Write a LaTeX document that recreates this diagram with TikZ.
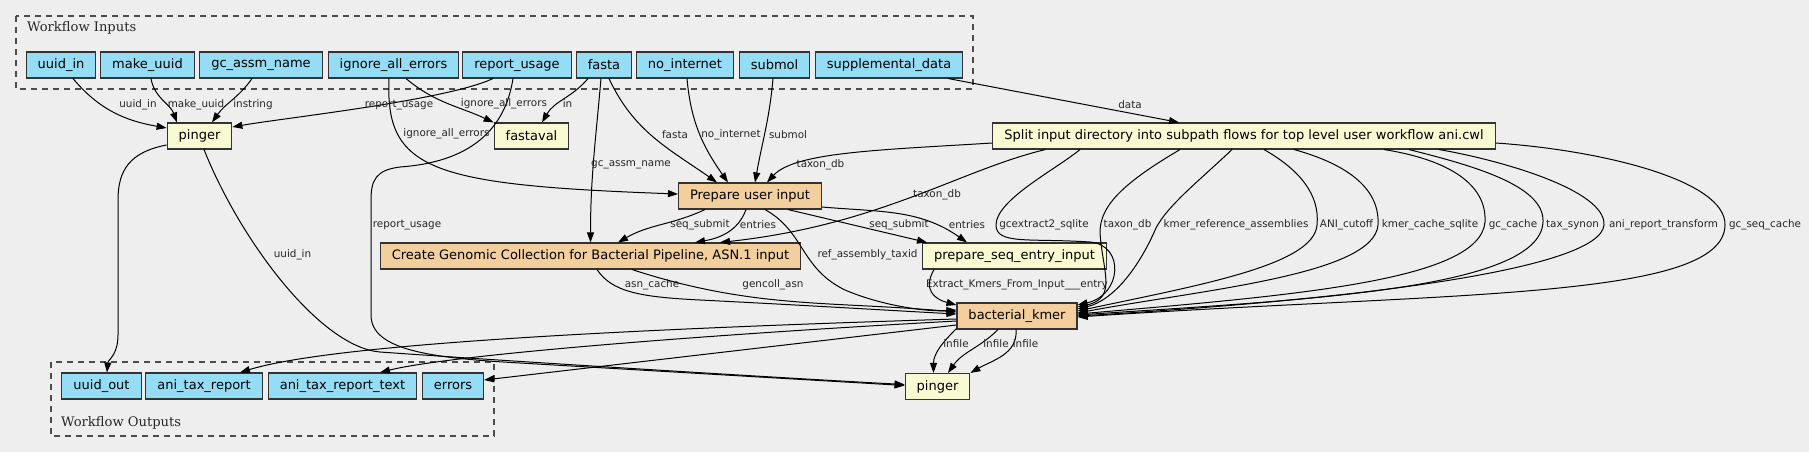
\documentclass[tikz,border=0pt]{standalone}
\usepackage{fontspec}
\setmainfont{DejaVu Sans}
\newfontfamily\clusterfont{DejaVu Serif}
\usetikzlibrary{arrows.meta}
\definecolor{bg}{HTML}{EEEEEE}
\definecolor{iofill}{HTML}{94DDF4}
\definecolor{toolfill}{HTML}{FAFAD2}
\definecolor{wffill}{HTML}{F3CF9E}
\definecolor{boxline}{HTML}{333333}

\begin{document}
\begin{tikzpicture}[x=1pt,y=-1pt,
	>={Triangle[length=10pt,width=7pt]},
	box/.style={draw=boxline,line width=1.1pt,minimum height=26pt,inner xsep=11.5pt,inner ysep=0pt,font=\fontsize{13}{15}\selectfont},
	iobox/.style={box,fill=iofill},
	toolbox/.style={box,fill=toolfill},
	wfbox/.style={box,fill=wffill},
	flow/.style={->,line width=1pt},
	elabel/.style={inner sep=0pt,text=black!85,font=\fontsize{10.4}{12}\selectfont},
	cluster/.style={draw=black!70,line width=1.2pt,dash pattern=on 6pt off 5pt},
	clabel/.style={anchor=base west,inner sep=0pt,text=black!85,font=\clusterfont\fontsize{13.1}{15}\selectfont}]
\useasboundingbox (0,0) rectangle (1809,452);
\begin{scope}
	\fill[bg] (0,0) rectangle (1809,452);
	\draw[cluster] (16,16) rectangle (973,89);
	\node[clabel] (inlabel) at (27,32) {Workflow Inputs};
	\draw[cluster] (51,362) rectangle (494,436);
	\node[clabel] (outlabel) at (61,426.5) {Workflow Outputs};

	\node[iobox] (uuidin) at (61,65) {uuid\_in};
	\node[iobox] (makeuuid) at (147.5,65) {make\_uuid};
	\node[iobox] (gcassm) at (261,65) {gc\_assm\_name};
	\node[iobox] (ignoreerr) at (393.5,65) {ignore\_all\_errors};
	\node[iobox] (reportuse) at (517,65) {report\_usage};
	\node[iobox] (fasta) at (604,65) {fasta};
	\node[iobox] (nointernet) at (685,65) {no\_internet};
	\node[iobox] (submol) at (774.5,65) {submol};
	\node[iobox] (suppdata) at (889,65) {supplemental\_data};

	\node[toolbox] (pinger) at (199.5,136) {pinger};
	\node[toolbox] (fastaval) at (531.5,136) {fastaval};
	\node[toolbox] (split) at (1244,136) {Split input directory into subpath flows for top level user workflow ani.cwl};
	\node[wfbox] (prep) at (750,196) {Prepare user input};
	\node[wfbox] (gencoll) at (590.5,256) {Create Genomic Collection for Bacterial Pipeline, ASN.1 input};
	\node[toolbox] (prepseq) at (1014.5,256) {prepare\_seq\_entry\_input};
	\node[wfbox] (kmer) at (1017,316) {bacterial\_kmer};
	\node[toolbox] (pingerb) at (937.5,386.5) {pinger};

	\node[iobox] (uuidout) at (101.5,386) {uuid\_out};
	\node[iobox] (anireport) at (204,386) {ani\_tax\_report};
	\node[iobox] (anireporttext) at (342.5,386) {ani\_tax\_report\_text};
	\node[iobox] (errors) at (453,386) {errors};

	\draw[flow] ([xshift=12pt]uuidin.south) to[out=-50,in=170] ([yshift=8pt]pinger.west);
	\draw[flow] ([xshift=3.5pt]makeuuid.south) to[out=-80,in=110] ([xshift=-22.5pt]pinger.north);
	\draw[flow] ([xshift=-9pt]gcassm.south) to[out=-125,in=55] ([xshift=12.5pt]pinger.north);
	\draw[flow] ([xshift=-24pt]reportuse.south) to[out=-155,in=10,looseness=0.5] ([yshift=9pt]pinger.east);
	\draw[flow] ([xshift=12.5pt]ignoreerr.south) to[out=-40,in=155] (fastaval.north west);
	\draw[flow] ([xshift=-16pt]fasta.south) to[out=-130,in=60] ([xshift=10.5pt]fastaval.north);
	\draw[flow] ([xshift=-4.5pt]ignoreerr.south) .. controls (385,170) and (430,185) .. ([yshift=2pt]prep.west);
	\draw[flow] ([xshift=-4pt]reportuse.south) .. controls (505,130) and (470,162) .. (400,167) .. controls (376,170) and (371,180) .. (371,200) -- (371,315) .. controls (371,350) and (430,358) .. (520,363) -- ([yshift=1pt]pingerb.west);
	\draw[flow] ([yshift=-9pt]pinger.west) .. controls (130,152) and (118,170) .. (118,200) -- (118,335) .. controls (118,355) and (108,360) .. ([xshift=5.5pt]uuidout.north);
	\draw[flow] ([xshift=4.5pt]pinger.south) .. controls (240,240) and (320,347) .. (380,352) .. controls (520,362) and (800,379) .. ([yshift=2pt]pingerb.west);
	\draw[flow] ([xshift=-3pt]fasta.south) to[out=-95,in=90] (gencoll.north);
	\draw[flow] ([xshift=5pt]fasta.south) to[out=-65,in=145] ([xshift=-33pt]prep.north);
	\draw[flow] ([xshift=2pt]nointernet.south) to[out=-85,in=125] ([xshift=-22pt]prep.north);
	\draw[flow] ([xshift=-1.5pt]submol.south) to[out=-95,in=80] ([xshift=5pt]prep.north);
	\draw[flow] ([xshift=-15pt]suppdata.south east) -- ([xshift=-65pt]split.north);
	\draw[flow] ([yshift=-7pt]split.west) .. controls (880,150) and (795,152) .. ([xshift=17pt]prep.north);
	\draw[flow] ([xshift=53pt]split.south west) .. controls (960,170) and (880,225) .. ([xshift=129.5pt]gencoll.north);
	\draw[flow] ([xshift=-45pt]prep.south) to[out=-155,in=30] ([xshift=27.5pt]gencoll.north);
	\draw[flow] ([xshift=-4pt]prep.south) to[out=-110,in=10] ([xshift=104.5pt]gencoll.north);
	\draw[flow] ([xshift=38pt]prep.south) -- ([xshift=5pt]prepseq.north west);
	\draw[flow] ([yshift=-11pt]prep.east) to[out=-5,in=145] ([xshift=-47.5pt]prepseq.north);
	\draw[flow] ([xshift=15pt]prep.south) .. controls (805,232) and (800,268) .. (845,290) .. controls (880,305) and (925,312) .. ([yshift=6pt]kmer.west);
	\draw[flow] ([xshift=6.5pt]gencoll.south) .. controls (612,292) and (640,297) .. (700,300) .. controls (800,305) and (900,311) .. ([yshift=2pt]kmer.west);
	\draw[flow] ([xshift=41.5pt]gencoll.south) to[out=-18,in=175] ([yshift=4pt]kmer.west);
	\draw[flow] ([xshift=12pt]prepseq.south west) to[out=-120,in=165,looseness=1.4] ([yshift=11pt]kmer.west);

	\draw[flow] ([xshift=-164pt]split.south) .. controls (1055,170) and (996,200) .. (996,225) .. controls (996,245) and (1030,238) .. (1090,242) .. controls (1125,245) and (1122,295) .. ([yshift=11pt]kmer.east);
	\draw[flow] ([xshift=-64pt]split.south) .. controls (1125,182) and (1100,205) .. (1100,232) .. controls (1102,270) and (1118,298) .. ([yshift=9pt]kmer.east);
	\draw[flow] ([xshift=-12pt]split.south) .. controls (1200,180) and (1168,205) .. (1156,228) .. controls (1140,265) and (1115,300) .. ([yshift=7pt]kmer.east);
	\draw[flow] ([xshift=20pt]split.south) .. controls (1300,170) and (1320,195) .. (1317,225) .. controls (1314,265) and (1200,285) .. ([yshift=5pt]kmer.east);
	\draw[flow] ([xshift=50pt]split.south) .. controls (1350,165) and (1380,190) .. (1378,225) .. controls (1374,275) and (1200,290) .. ([yshift=3pt]kmer.east);
	\draw[flow] ([xshift=140pt]split.south) .. controls (1450,160) and (1487,185) .. (1485,222) .. controls (1480,280) and (1300,295) .. ([yshift=2pt]kmer.east);
	\draw[flow] ([xshift=165pt]split.south) .. controls (1470,165) and (1545,185) .. (1543,222) .. controls (1540,290) and (1300,300) .. ([yshift=1pt]kmer.east);
	\draw[flow] ([xshift=195pt]split.south) .. controls (1500,160) and (1606,190) .. (1604,225) .. controls (1600,270) and (1350,300) .. (kmer.east);
	\draw[flow] ([yshift=-7pt]split.east) .. controls (1600,150) and (1726,180) .. (1725,225) .. controls (1724,300) and (1450,292) .. ([yshift=-1pt]kmer.east);

	\draw[flow] ([yshift=-3pt]kmer.west) .. controls (600,330) and (330,345) .. ([xshift=36pt]anireport.north);
	\draw[flow] ([yshift=-5pt]kmer.west) .. controls (700,335) and (450,355) .. ([xshift=37.5pt]anireporttext.north);
	\draw[flow] ([yshift=-9pt]kmer.west) -- ([yshift=6pt]errors.east);
	\draw[flow] ([yshift=1pt]kmer.south west) to[out=-135,in=90] ([xshift=-4pt]pingerb.north);
	\draw[flow] ([xshift=-19pt]kmer.south) to[out=-135,in=55] ([xshift=10.5pt]pingerb.north);
	\draw[flow] ([xshift=-1pt]kmer.south) to[out=-85,in=30] (pingerb.north east);

	\node[elabel] (l-uuidin) at (138,105) {uuid\_in};
	\node[elabel] (l-makeuuid) at (196,105) {make\_uuid};
	\node[elabel] (l-instring) at (253,105) {instring};
	\node[elabel] (l-report) at (399,105) {report\_usage};
	\node[elabel] (l-ignore) at (504,104) {ignore\_all\_errors};
	\node[elabel] (l-in) at (567.5,104) {in};
	\node[elabel] (l-ignoreb) at (446.5,134) {ignore\_all\_errors};
	\node[elabel] (l-fasta) at (675,135) {fasta};
	\node[elabel] (l-nointernet) at (731,135) {no\_internet};
	\node[elabel] (l-submol) at (788,135) {submol};
	\node[elabel] (l-data) at (1130,105) {data};
	\node[elabel] (l-gcassm) at (631,165) {gc\_assm\_name};
	\node[elabel] (l-taxona) at (820.5,165) {taxon\_db};
	\node[elabel] (l-taxonb) at (937,195) {taxon\_db};
	\node[elabel] (l-reportb) at (407,225) {report\_usage};
	\node[elabel] (l-uuidinb) at (292.5,255) {uuid\_in};
	\node[elabel] (l-seqa) at (700,225) {seq\_submit};
	\node[elabel] (l-entriesa) at (758,225) {entries};
	\node[elabel] (l-seqb) at (899,225) {seq\_submit};
	\node[elabel] (l-entriesb) at (967,225) {entries};
	\node[elabel] (l-taxid) at (867.5,255) {ref\_assembly\_taxid};
	\node[elabel] (l-asn) at (652,285) {asn\_cache};
	\node[elabel] (l-gencoll) at (773,285) {gencoll\_asn};
	\node[elabel] (l-extract) at (1017,285) {Extract\_Kmers\_From\_Input\_\_\_entry};
	\node[elabel] (l-gcextract) at (1044,225) {gcextract2\_sqlite};
	\node[elabel] (l-taxonc) at (1127.5,225) {taxon\_db};
	\node[elabel] (l-kmerref) at (1236,225) {kmer\_reference\_assemblies};
	\node[elabel] (l-ani) at (1346.5,225) {ANI\_cutoff};
	\node[elabel] (l-kmercache) at (1430,225) {kmer\_cache\_sqlite};
	\node[elabel] (l-gccache) at (1513,225) {gc\_cache};
	\node[elabel] (l-taxsynon) at (1572.5,225) {tax\_synon};
	\node[elabel] (l-anireport) at (1663.5,225) {ani\_report\_transform};
	\node[elabel] (l-gcseq) at (1765,225) {gc\_seq\_cache};
	\node[elabel] (l-infilea) at (956,344) {infile};
	\node[elabel] (l-infileb) at (996,344) {infile};
	\node[elabel] (l-infilec) at (1025.5,344) {infile};
\end{scope}
\end{tikzpicture}
\end{document}
